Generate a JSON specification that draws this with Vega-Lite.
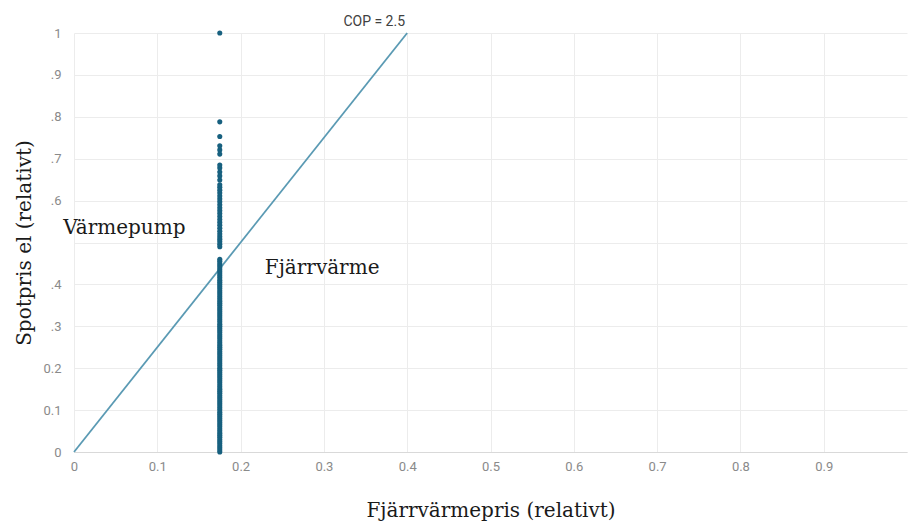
{
  "$schema": "https://vega.github.io/schema/vega-lite/v6.json",
  "width": 833,
  "height": 419,
  "autosize": {"type": "none"},
  "padding": {"left": 74, "top": 33, "right": 3, "bottom": 70},
  "background": "white",
  "config": {"view": {"stroke": null}},
  "datasets": {
    "points": [
      {"x":0.175,"y":0},{"x":0.175,"y":0.005},{"x":0.175,"y":0.01},{"x":0.175,"y":0.015},{"x":0.175,"y":0.02},{"x":0.175,"y":0.025},{"x":0.175,"y":0.03},{"x":0.175,"y":0.035},{"x":0.175,"y":0.04},{"x":0.175,"y":0.045},
      {"x":0.175,"y":0.05},{"x":0.175,"y":0.055},{"x":0.175,"y":0.06},{"x":0.175,"y":0.065},{"x":0.175,"y":0.07},{"x":0.175,"y":0.075},{"x":0.175,"y":0.08},{"x":0.175,"y":0.085},{"x":0.175,"y":0.09},{"x":0.175,"y":0.095},
      {"x":0.175,"y":0.1},{"x":0.175,"y":0.105},{"x":0.175,"y":0.11},{"x":0.175,"y":0.115},{"x":0.175,"y":0.12},{"x":0.175,"y":0.125},{"x":0.175,"y":0.13},{"x":0.175,"y":0.135},{"x":0.175,"y":0.14},{"x":0.175,"y":0.145},
      {"x":0.175,"y":0.15},{"x":0.175,"y":0.155},{"x":0.175,"y":0.16},{"x":0.175,"y":0.165},{"x":0.175,"y":0.17},{"x":0.175,"y":0.175},{"x":0.175,"y":0.18},{"x":0.175,"y":0.185},{"x":0.175,"y":0.19},{"x":0.175,"y":0.195},
      {"x":0.175,"y":0.2},{"x":0.175,"y":0.205},{"x":0.175,"y":0.21},{"x":0.175,"y":0.215},{"x":0.175,"y":0.22},{"x":0.175,"y":0.225},{"x":0.175,"y":0.23},{"x":0.175,"y":0.235},{"x":0.175,"y":0.24},{"x":0.175,"y":0.245},
      {"x":0.175,"y":0.25},{"x":0.175,"y":0.255},{"x":0.175,"y":0.26},{"x":0.175,"y":0.265},{"x":0.175,"y":0.27},{"x":0.175,"y":0.275},{"x":0.175,"y":0.28},{"x":0.175,"y":0.285},{"x":0.175,"y":0.29},{"x":0.175,"y":0.295},
      {"x":0.175,"y":0.3},{"x":0.175,"y":0.305},{"x":0.175,"y":0.31},{"x":0.175,"y":0.315},{"x":0.175,"y":0.32},{"x":0.175,"y":0.325},{"x":0.175,"y":0.33},{"x":0.175,"y":0.335},{"x":0.175,"y":0.34},{"x":0.175,"y":0.345},
      {"x":0.175,"y":0.35},{"x":0.175,"y":0.355},{"x":0.175,"y":0.36},{"x":0.175,"y":0.365},{"x":0.175,"y":0.37},{"x":0.175,"y":0.375},{"x":0.175,"y":0.38},{"x":0.175,"y":0.385},{"x":0.175,"y":0.39},{"x":0.175,"y":0.395},
      {"x":0.175,"y":0.4},{"x":0.175,"y":0.405},{"x":0.175,"y":0.41},{"x":0.175,"y":0.415},{"x":0.175,"y":0.42},{"x":0.175,"y":0.425},{"x":0.175,"y":0.43},{"x":0.175,"y":0.435},{"x":0.175,"y":0.44},{"x":0.175,"y":0.445},
      {"x":0.175,"y":0.45},{"x":0.175,"y":0.455},{"x":0.175,"y":0.46},
      {"x":0.175,"y":0.49},{"x":0.175,"y":0.496},{"x":0.175,"y":0.502},{"x":0.175,"y":0.508},{"x":0.175,"y":0.514},{"x":0.175,"y":0.52},{"x":0.175,"y":0.527},{"x":0.175,"y":0.534},{"x":0.175,"y":0.541},{"x":0.175,"y":0.548},
      {"x":0.175,"y":0.555},{"x":0.175,"y":0.562},{"x":0.175,"y":0.569},{"x":0.175,"y":0.576},{"x":0.175,"y":0.583},{"x":0.175,"y":0.59},{"x":0.175,"y":0.597},{"x":0.175,"y":0.604},{"x":0.175,"y":0.611},{"x":0.175,"y":0.618},
      {"x":0.175,"y":0.625},{"x":0.175,"y":0.632},{"x":0.175,"y":0.638},{"x":0.175,"y":0.649},{"x":0.175,"y":0.659},{"x":0.175,"y":0.668},{"x":0.175,"y":0.678},{"x":0.175,"y":0.685},{"x":0.175,"y":0.711},{"x":0.175,"y":0.721},
      {"x":0.175,"y":0.731},{"x":0.175,"y":0.753},{"x":0.175,"y":0.788},{"x":0.175,"y":1.0}
    ],
    "cop": [{"x":0,"y":0},{"x":0.4,"y":1}],
    "labels": [
      {"x":0.4,"y":1,"label":"COP = 2.5"}
    ],
    "regions": [
      {"x":-0.013,"y":0.535,"label":"Värmepump"},
      {"x":0.229,"y":0.438,"label":"Fjärrvärme"}
    ]
  },
  "layer": [
    {
      "data": {"name": "cop"},
      "mark": {"type": "line", "color": "#5a9ab3", "strokeWidth": 1.8},
      "encoding": {
        "x": {
          "field": "x", "type": "quantitative",
          "scale": {"domain": [0, 1], "nice": false, "zero": false},
          "axis": {
            "title": "Fjärrvärmepris (relativt)",
            "titleFont": "DejaVu Serif", "titleFontSize": 20, "titleFontWeight": "normal", "titleColor": "#1a1a1a",
            "titlePadding": 27,
            "values": [0,0.1,0.2,0.3,0.4,0.5,0.6,0.7,0.8,0.9],
            "labelExpr": "datum.value == 0 ? '0' : format(datum.value, '.1f')",
            "labelFlush": false,
            "labelFont": "Roboto", "labelFontSize": 13, "labelColor": "#8a8a8a", "labelPadding": 8,
            "ticks": false, "domainColor": "#d9d9d9", "gridColor": "#ececec", "grid": true
          }
        },
        "y": {
          "field": "y", "type": "quantitative",
          "scale": {"domain": [0, 1], "nice": false, "zero": false},
          "axis": {
            "title": "Spotpris el (relativt)",
            "titleFont": "DejaVu Serif", "titleFontSize": 20, "titleFontWeight": "normal", "titleColor": "#1a1a1a",
            "titlePadding": 8,
            "values": [0,0.1,0.2,0.3,0.4,0.5,0.6,0.7,0.8,0.9,1],
            "labelExpr": "datum.value == 0 ? '0' : datum.value == 1 ? '1' : datum.value == 0.5 ? '' : datum.value >= 0.3 ? replace(format(datum.value, '.1f'), '0.', '.') : format(datum.value, '.1f')",
            "labelFlush": false,
            "labelFont": "Roboto", "labelFontSize": 13, "labelColor": "#8a8a8a", "labelPadding": 13,
            "ticks": false, "domain": false, "gridColor": "#ececec", "grid": true
          }
        }
      }
    },
    {
      "data": {"name": "points"},
      "mark": {"type": "circle", "color": "#17607f", "opacity": 1, "size": 26},
      "encoding": {
        "x": {"field": "x", "type": "quantitative"},
        "y": {"field": "y", "type": "quantitative"}
      }
    },
    {
      "data": {"name": "labels"},
      "mark": {"type": "text", "font": "Roboto", "fontSize": 14, "color": "#404040", "align": "center", "baseline": "bottom", "dx": -33, "dy": -4},
      "encoding": {
        "x": {"field": "x", "type": "quantitative"},
        "y": {"field": "y", "type": "quantitative"},
        "text": {"field": "label"}
      }
    },
    {
      "data": {"name": "regions"},
      "mark": {"type": "text", "font": "DejaVu Serif", "fontSize": 20, "color": "#1a1a1a", "align": "left", "baseline": "middle"},
      "encoding": {
        "x": {"field": "x", "type": "quantitative"},
        "y": {"field": "y", "type": "quantitative"},
        "text": {"field": "label"}
      }
    }
  ]
}
